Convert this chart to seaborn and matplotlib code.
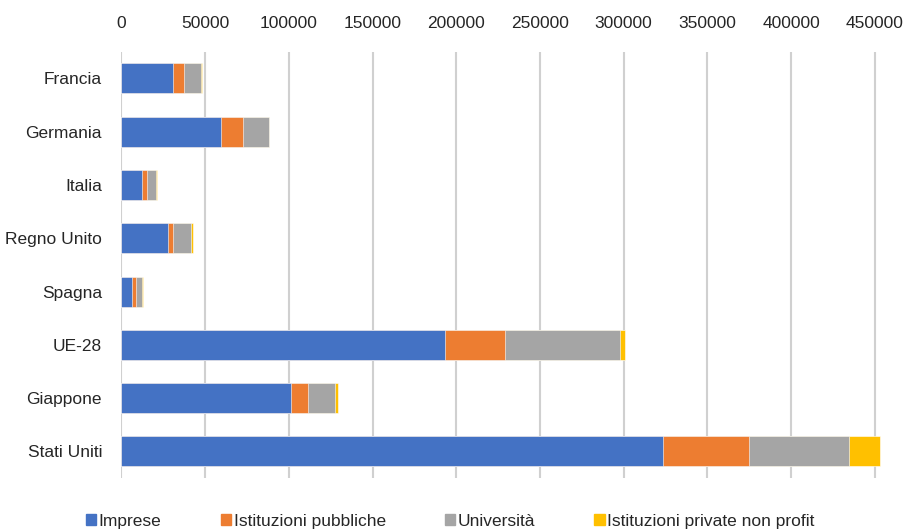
import matplotlib
matplotlib.use("Agg")
import matplotlib.pyplot as plt
import matplotlib.patches as mpatches
import pandas as pd
import seaborn as sns

countries = ["Francia", "Germania", "Italia", "Regno Unito", "Spagna", "UE-28", "Giappone", "Stati Uniti"]
imprese = [30700, 59700, 12100, 28000, 6100, 193300, 101300, 323700]
istituzioni_pubbliche = [6400, 12700, 3000, 2700, 2400, 35800, 10300, 51100]
universita = [10100, 15500, 5700, 11100, 4000, 68700, 16100, 59800]
privati_non_profit = [600, 300, 600, 1000, 400, 2800, 1600, 18500]

series_names = ["Imprese", "Istituzioni pubbliche", "Università", "Istituzioni private non profit"]
series_colors = ["#4472C4", "#ED7D31", "#A5A5A5", "#FFC000"]
xticks = list(range(0, 450001, 50000))

sns.set_style("white")
plt.rcParams["font.family"] = ["Liberation Sans", "DejaVu Sans"]

df = pd.DataFrame({
    "paese": countries,
    series_names[0]: imprese,
    series_names[1]: istituzioni_pubbliche,
    series_names[2]: universita,
    series_names[3]: privati_non_profit,
})
cum = df[series_names].cumsum(axis=1).assign(paese=df["paese"])

fig = plt.figure(figsize=(9.06, 5.30), dpi=100)
ax = fig.add_axes([0.1341, 0.098, 0.9748 - 0.1341, 0.9025 - 0.098])

# stacked bars: draw cumulative totals from the outermost segment inwards
for name, color in reversed(list(zip(series_names, series_colors))):
    sns.barplot(
        data=cum,
        x=name,
        y="paese",
        orient="h",
        color=color,
        width=0.563,
        saturation=1,
        edgecolor="white",
        linewidth=0.4,
        ax=ax,
    )

ax.set_xlim(0, 455000)
ax.set_xticks(xticks)
ax.set_xticklabels([str(t) for t in xticks])
ax.xaxis.tick_top()
ax.set_xlabel("")
ax.set_ylabel("")
ax.grid(axis="x", color="#D0D0D0", linewidth=1.5)
ax.set_axisbelow(True)
for spine in ax.spines.values():
    spine.set_visible(False)
ax.tick_params(axis="x", length=0, pad=14.8, labelsize=12.5, labelcolor="#262626")
ax.tick_params(axis="y", length=0, pad=14, labelsize=12.5, labelcolor="#262626")

handles = [mpatches.Patch(color=c, label=n) for n, c in zip(series_names, series_colors)]
fig.legend(
    handles=handles,
    loc="center",
    bbox_to_anchor=(0.497, 0.016),
    ncol=4,
    frameon=False,
    fontsize=12.5,
    handlelength=0.6,
    handleheight=0.6,
    handletextpad=0.15,
    columnspacing=3.4,
    labelcolor="#262626",
)

fig.savefig("out.png", dpi=100)
